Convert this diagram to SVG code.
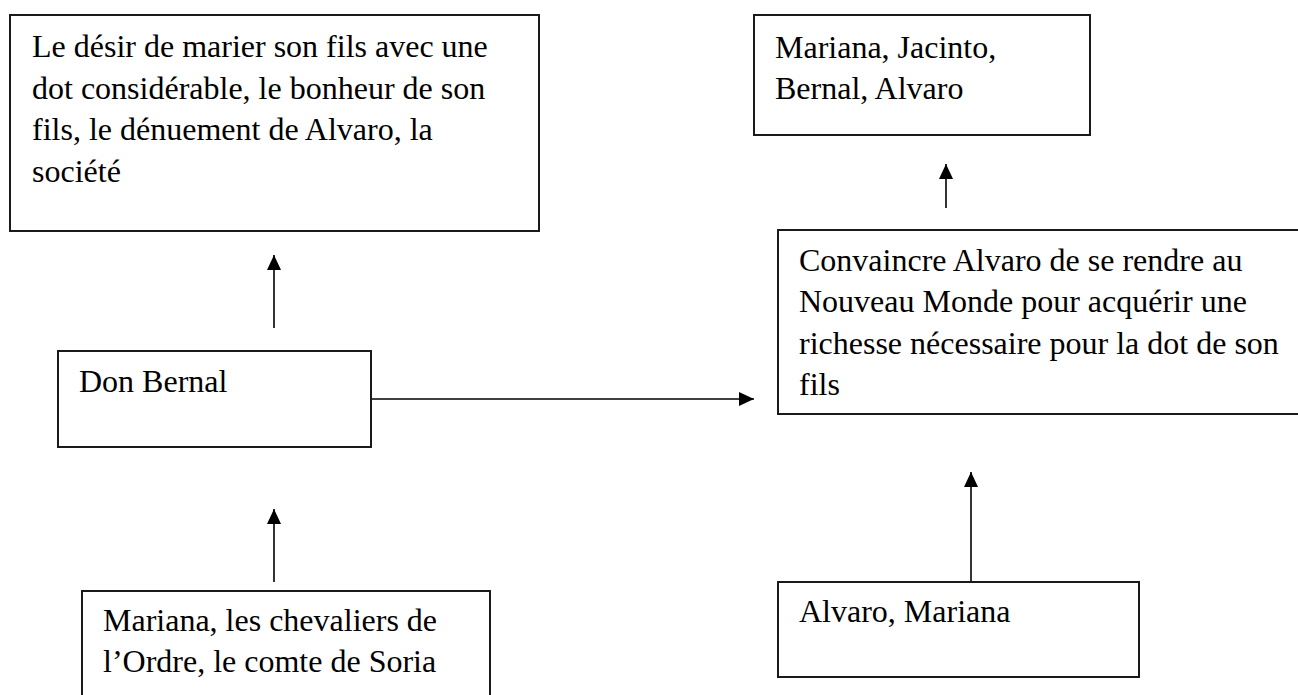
<svg xmlns="http://www.w3.org/2000/svg" width="1298" height="695" viewBox="0 0 1298 695">
<defs>
<marker id="ah" markerUnits="userSpaceOnUse" markerWidth="16" markerHeight="14" refX="15" refY="7" orient="auto">
<path d="M0,0 L15,7 L0,14 z" fill="#000"/>
</marker>
<style>
.box{fill:#fff;stroke:#1a1a1a;stroke-width:2}
.t{font-family:'Liberation Serif','Tinos','Times New Roman','DejaVu Serif',serif;font-size:32px;fill:#000}
.c{stroke:#000;stroke-width:1.6;fill:none;marker-end:url(#ah)}
</style>
</defs>
<rect width="1298" height="695" fill="#fff"/>
<g id="connectors">
<line class="c" x1="274" y1="328" x2="274" y2="255"/>
<line class="c" x1="274" y1="582" x2="274" y2="509"/>
<line class="c" x1="371" y1="399" x2="754" y2="399"/>
<line class="c" x1="946" y1="208" x2="946" y2="164"/>
<line class="c" x1="971" y1="582" x2="971" y2="472"/>
</g>
<g id="n-motives">
<rect class="box" x="10" y="15" width="529" height="216"/>
<text class="t" font-family="Liberation Serif, serif"><tspan x="32" y="57">Le désir de marier son fils avec une</tspan><tspan x="32" y="98.5">dot considérable, le bonheur de son</tspan><tspan x="32" y="140">fils, le dénuement de Alvaro, la</tspan><tspan x="32" y="181.5">société</tspan></text>
</g>
<g id="n-beneficiaries">
<rect class="box" x="754" y="15" width="336" height="120"/>
<text class="t"><tspan x="775" y="58">Mariana, Jacinto,</tspan><tspan x="775" y="99">Bernal, Alvaro</tspan></text>
</g>
<g id="n-object">
<rect class="box" x="778" y="230" width="540" height="184"/>
<text class="t"><tspan x="799" y="270.5">Convaincre Alvaro de se rendre au</tspan><tspan x="799" y="312">Nouveau Monde pour acquérir une</tspan><tspan x="799" y="353.5">richesse nécessaire pour la dot de son</tspan><tspan x="799" y="395">fils</tspan></text>
</g>
<g id="n-subject">
<rect class="box" x="58" y="351" width="313" height="96"/>
<text class="t" x="79" y="392">Don Bernal</text>
</g>
<g id="n-opponents">
<rect class="box" x="82" y="591" width="408" height="120"/>
<text class="t"><tspan x="103" y="631">Mariana, les chevaliers de</tspan><tspan x="103" y="672">l’Ordre, le comte de Soria</tspan></text>
</g>
<g id="n-helpers">
<rect class="box" x="778" y="582" width="361" height="95"/>
<text class="t" x="799" y="622">Alvaro, Mariana</text>
</g>
</svg>
